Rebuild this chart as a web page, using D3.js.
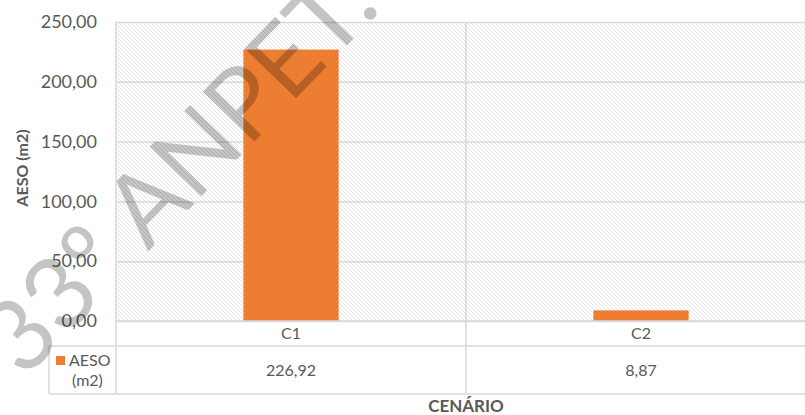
<!DOCTYPE html>
<html>
<head>
<meta charset="utf-8">
<script src="https://cdn.jsdelivr.net/npm/d3@7"></script>
<style>
  body { margin: 0; background: #fff; }
  svg { display: block; }
  text { font-family: Lato, "Noto Sans", sans-serif; fill: #595959; }
</style>
</head>
<body>
<div id="chartDiv"></div>
<script>
'use strict';

const categories = ['C1', 'C2'];
const seriesName = ['AESO', '(m2)'];
const aesoValues = [226.92, 8.87];
const yTicks = [0, 50, 100, 150, 200, 250];
const axisTitleY = 'AESO (m2)';
const axisTitleX = 'CENÁRIO';
const watermark = '33º ANPET.';

const W = 805, H = 415;
const plot = { left: 116, right: 816, top: 22, bottom: 321 };
const rowCat = 346, rowVal = 394, legendLeft = 49;
const gridColor = '#d9d9d9';
const barColor = '#ed7d31';

const fmt = v => d3.format('.2f')(v).replace('.', ',');

const svg = d3.select('#chartDiv').append('svg')
    .attr('width', W)
    .attr('height', H);

// hatched plot background
const pat = svg.append('defs').append('pattern')
    .attr('id', 'hatch')
    .attr('patternUnits', 'userSpaceOnUse')
    .attr('width', 4).attr('height', 4);
pat.append('path')
    .attr('d', 'M-1,-1 L5,5 M-1,3 L1,5 M3,-1 L5,1')
    .attr('stroke', '#e4e4e4')
    .attr('stroke-width', 1);

const x = d3.scaleBand()
    .domain(categories)
    .range([plot.left, plot.right]);

const y = d3.scaleLinear()
    .domain([0, 250])
    .range([plot.bottom, plot.top]);

const barW = x.bandwidth() * 0.272;

svg.append('rect')
    .attr('x', plot.left).attr('y', plot.top)
    .attr('width', plot.right - plot.left)
    .attr('height', plot.bottom - plot.top)
    .attr('fill', 'url(#hatch)');

// y gridlines + labels
const yAxis = svg.append('g')
    .attr('transform', `translate(${plot.left},0)`)
    .call(d3.axisLeft(y).tickValues(yTicks).tickFormat(fmt)
        .tickSize(-(plot.right - plot.left)).tickPadding(19));
yAxis.select('.domain').remove();
yAxis.selectAll('line').attr('stroke', gridColor).attr('stroke-width', 1.5);
yAxis.selectAll('text')
    .attr('fill', '#595959')
    .style('font-size', '18px')
    .style('font-family', 'Lato, sans-serif');

// bars
svg.append('g').selectAll('rect')
    .data(categories)
    .join('rect')
    .attr('x', d => x(d) + x.bandwidth() / 2 - barW / 2)
    .attr('y', (d, i) => y(aesoValues[i]))
    .attr('width', barW)
    .attr('height', (d, i) => y(0) - y(aesoValues[i]))
    .attr('fill', barColor);

// data table lines
const tbl = svg.append('g')
    .attr('stroke', gridColor)
    .attr('stroke-width', 1.5);
tbl.append('line').attr('x1', plot.left).attr('x2', W).attr('y1', y(0)).attr('y2', y(0));
[rowCat, rowVal].forEach(r => {
    tbl.append('line').attr('x1', legendLeft).attr('x2', W).attr('y1', r).attr('y2', r);
});
tbl.append('line').attr('x1', legendLeft).attr('x2', legendLeft).attr('y1', rowCat).attr('y2', rowVal);
tbl.append('line').attr('x1', plot.left).attr('x2', plot.left).attr('y1', plot.top).attr('y2', rowVal);
tbl.selectAll(null)
    .data(categories.slice(1))
    .join('line')
    .attr('x1', d => x(d)).attr('x2', d => x(d))
    .attr('y1', plot.top).attr('y2', rowVal);

// category row
svg.append('g').selectAll('text')
    .data(categories)
    .join('text')
    .attr('x', d => x(d) + x.bandwidth() / 2)
    .attr('y', (y(0) + rowCat) / 2)
    .attr('dy', '0.35em')
    .attr('text-anchor', 'middle')
    .style('font-size', '16px')
    .text(d => d);

// value row
svg.append('g').selectAll('text')
    .data(aesoValues)
    .join('text')
    .attr('x', (d, i) => x(categories[i]) + x.bandwidth() / 2)
    .attr('y', (rowCat + rowVal) / 2)
    .attr('dy', '0.35em')
    .attr('text-anchor', 'middle')
    .style('font-size', '16px')
    .text(d => fmt(d));

// legend key in table
svg.append('rect')
    .attr('x', 56).attr('y', 356)
    .attr('width', 9).attr('height', 9)
    .attr('fill', barColor);
svg.append('text')
    .attr('x', 69).attr('y', 366)
    .style('font-size', '16px')
    .text(seriesName[0]);
svg.append('text')
    .attr('x', 72).attr('y', 386)
    .style('font-size', '16px')
    .text(seriesName[1]);

// axis titles
svg.append('text')
    .attr('transform', 'translate(28,168) rotate(-90)')
    .attr('text-anchor', 'middle')
    .style('font-size', '16px')
    .style('font-weight', 'bold')
    .text(axisTitleY);
svg.append('text')
    .attr('x', 466).attr('y', 412)
    .attr('text-anchor', 'middle')
    .style('font-size', '17px')
    .style('font-weight', 'bold')
    .text(axisTitleX);

// watermark
svg.append('text')
    .attr('transform', 'translate(24,380) rotate(-46)')
    .style('font-size', '100px')
    .style('fill', 'rgba(0,0,0,0.23)')
    .text(watermark);
</script>
</body>
</html>
